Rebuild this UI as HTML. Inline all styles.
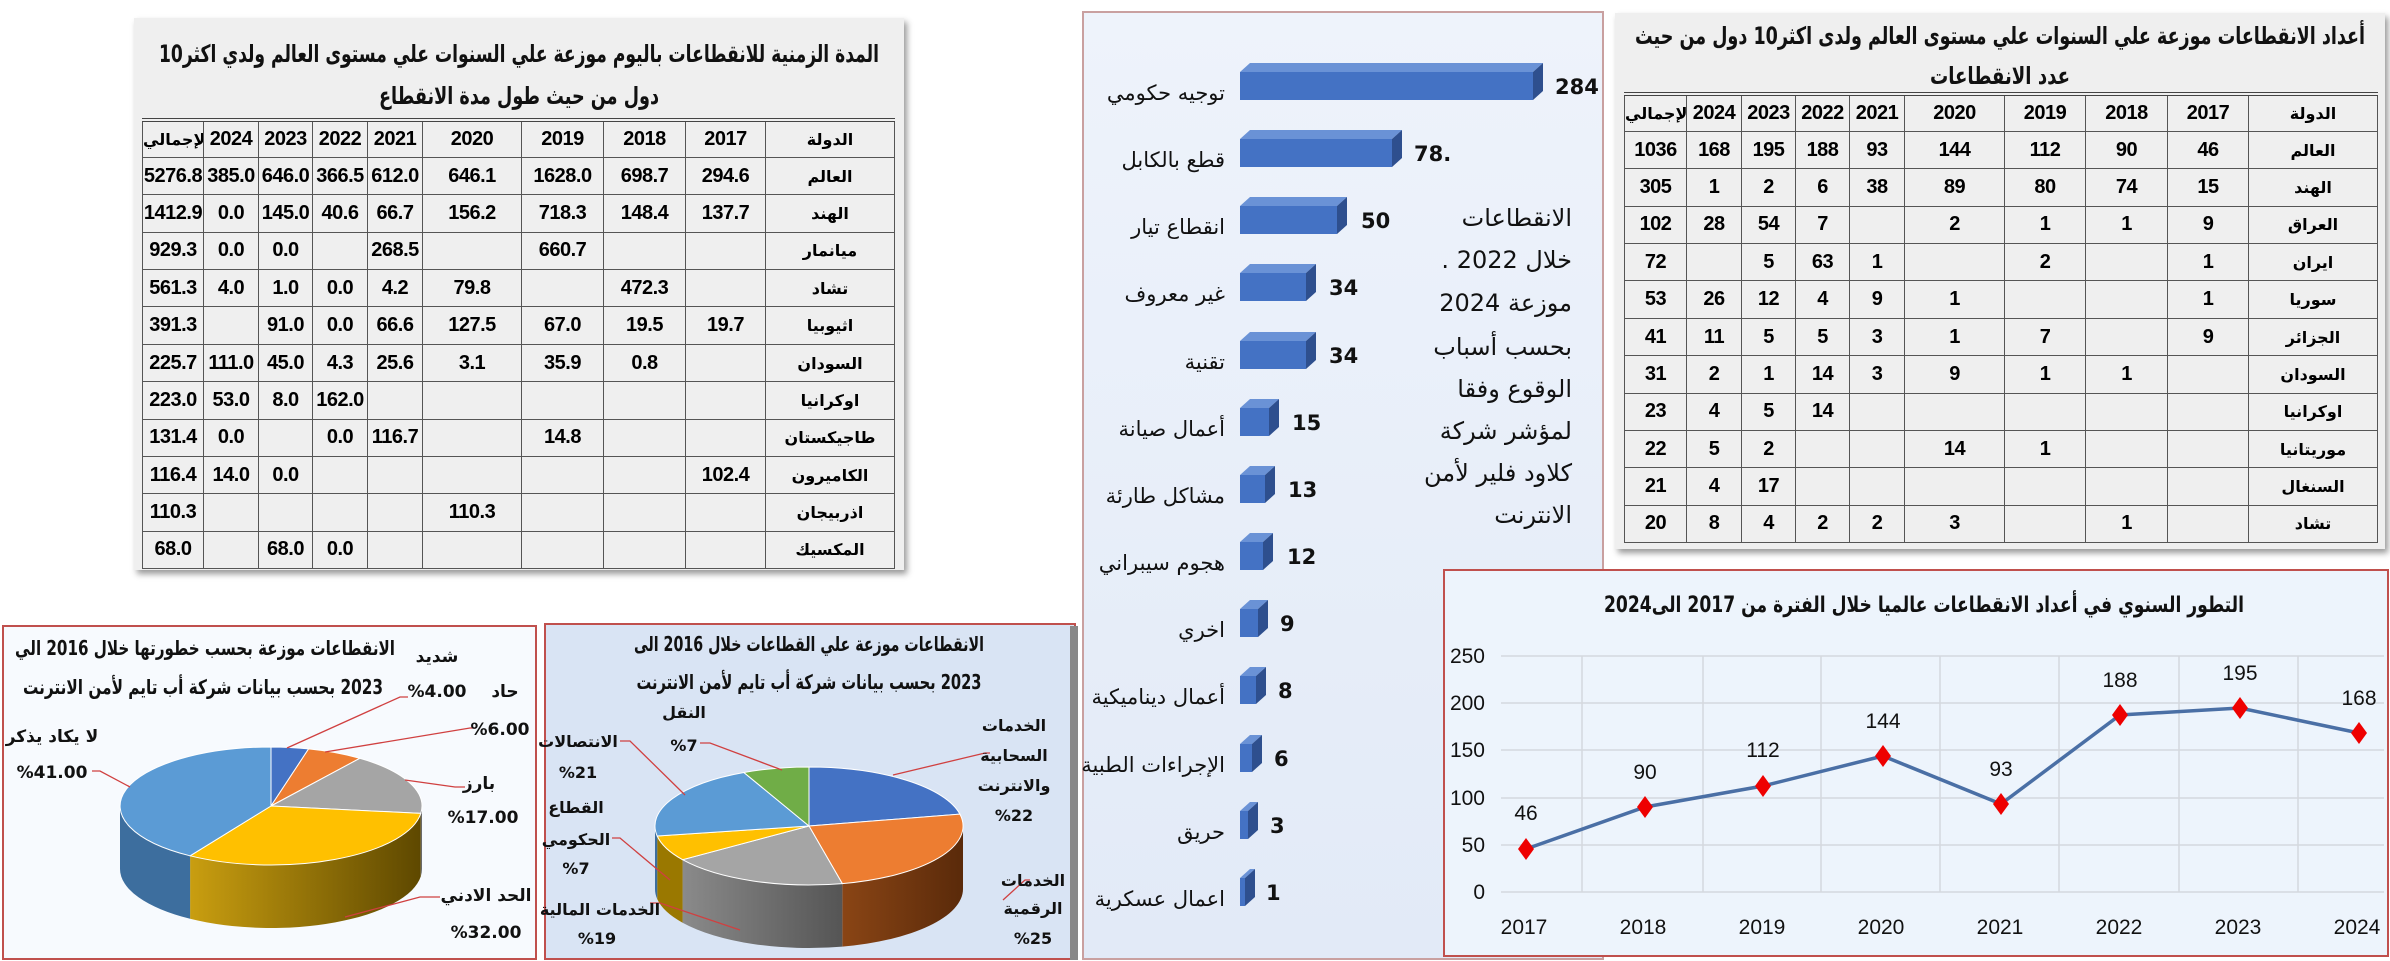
<!DOCTYPE html>
<html><head><meta charset="utf-8">
<style>
*{margin:0;padding:0;box-sizing:border-box}
body{width:2390px;height:961px;background:#fff;position:relative;overflow:hidden;font-family:"Liberation Sans","DejaVu Sans",sans-serif}
.box{position:absolute;background:#efefef;box-shadow:3px 4px 6px #999}
table{position:absolute;border-collapse:collapse;table-layout:fixed;font-weight:bold;font-size:20px;font-family:"Liberation Sans",sans-serif;letter-spacing:-0.5px}
td{border:1px solid #555;text-align:center;height:37.4px;padding:0;overflow:hidden;white-space:nowrap}
tr:first-child td{border-top:4px double #444}
td.c{font-family:"DejaVu Sans",sans-serif;font-size:16px;letter-spacing:0}
svg{position:absolute;left:0;top:0}
</style></head><body>

<svg width="2390" height="961" viewBox="0 0 2390 961" style="z-index:0">
<defs>
<linearGradient id="bg1" x1="0" y1="0" x2="0" y2="1"><stop offset="0" stop-color="#eef3fb"/><stop offset="1" stop-color="#e2eaf7"/></linearGradient>
<linearGradient id="yel" x1="0" y1="0" x2="1" y2="0"><stop offset="0" stop-color="#c99e10"/><stop offset="1" stop-color="#5e4800"/></linearGradient>
<linearGradient id="gry" x1="0" y1="0" x2="1" y2="0"><stop offset="0" stop-color="#8a8a8a"/><stop offset="1" stop-color="#555"/></linearGradient>
<linearGradient id="org" x1="0" y1="0" x2="1" y2="0"><stop offset="0" stop-color="#8a4515"/><stop offset="1" stop-color="#5a2a0a"/></linearGradient>
</defs>
<!-- bar chart panel -->
<rect x="1083" y="12" width="520" height="947" fill="url(#bg1)" stroke="#c9a0a0" stroke-width="2"/>
<g font-family="DejaVu Sans,sans-serif" font-size="21" fill="#111">
<g fill="#4472c4">
<rect x="1240" y="72" width="293" height="28"/><rect x="1240" y="139" width="152" height="28"/><rect x="1240" y="206" width="97" height="28"/><rect x="1240" y="273" width="66" height="28"/><rect x="1240" y="341" width="66" height="28"/><rect x="1240" y="408" width="29" height="28"/><rect x="1240" y="475" width="25" height="28"/><rect x="1240" y="542" width="23" height="28"/><rect x="1240" y="609" width="18" height="28"/><rect x="1240" y="676" width="16" height="28"/><rect x="1240" y="744" width="12" height="28"/><rect x="1240" y="811" width="8" height="28"/><rect x="1240" y="878" width="5" height="28"/>
</g>
<g fill="#6a92d6">
<path d="M1240 72l10-9h293l-10 9z"/><path d="M1240 139l10-9h152l-10 9z"/><path d="M1240 206l10-9h97l-10 9z"/><path d="M1240 273l10-9h66l-10 9z"/><path d="M1240 341l10-9h66l-10 9z"/><path d="M1240 408l10-9h29l-10 9z"/><path d="M1240 475l10-9h25l-10 9z"/><path d="M1240 542l10-9h23l-10 9z"/><path d="M1240 609l10-9h18l-10 9z"/><path d="M1240 676l10-9h16l-10 9z"/><path d="M1240 744l10-9h12l-10 9z"/><path d="M1240 811l10-9h8l-10 9z"/><path d="M1240 878l10-9h5l-10 9z"/>
</g>
<g fill="#2e4f8e">
<path d="M1533 72l10-9v28l-10 9z"/><path d="M1392 139l10-9v28l-10 9z"/><path d="M1337 206l10-9v28l-10 9z"/><path d="M1306 273l10-9v28l-10 9z"/><path d="M1306 341l10-9v28l-10 9z"/><path d="M1269 408l10-9v28l-10 9z"/><path d="M1265 475l10-9v28l-10 9z"/><path d="M1263 542l10-9v28l-10 9z"/><path d="M1258 609l10-9v28l-10 9z"/><path d="M1256 676l10-9v28l-10 9z"/><path d="M1252 744l10-9v28l-10 9z"/><path d="M1248 811l10-9v28l-10 9z"/><path d="M1245 878l10-9v28l-10 9z"/>
</g>
<g text-anchor="end">
<text x="1225" y="100">توجيه حكومي</text><text x="1225" y="167">قطع بالكابل</text><text x="1225" y="234">انقطاع تيار</text><text x="1225" y="301">غير معروف</text><text x="1225" y="369">تقنية</text><text x="1225" y="436">أعمال صيانة</text><text x="1225" y="503">مشاكل طارئة</text><text x="1225" y="570">هجوم سيبراني</text><text x="1225" y="637">اخري</text><text x="1225" y="704">أعمال ديناميكية</text><text x="1225" y="772">الإجراءات الطبية</text><text x="1225" y="839">حريق</text><text x="1225" y="906">اعمال عسكرية</text>
</g>
<g font-weight="bold" font-size="21">
<text x="1555" y="94">284</text><text x="1414" y="161">78.</text><text x="1361" y="228">50</text><text x="1329" y="295">34</text><text x="1329" y="363">34</text><text x="1292" y="430">15</text><text x="1288" y="497">13</text><text x="1287" y="564">12</text><text x="1280" y="631">9</text><text x="1278" y="698">8</text><text x="1274" y="766">6</text><text x="1270" y="833">3</text><text x="1266" y="900">1</text>
</g>
<g text-anchor="start" direction="rtl" font-size="24">
<text x="1572" y="226">الانقطاعات</text><text x="1572" y="268">خلال 2022 .</text><text x="1572" y="311">موزعة 2024</text><text x="1572" y="355">بحسب أسباب</text><text x="1572" y="397">الوقوع وفقا</text><text x="1572" y="439">لمؤشر شركة</text><text x="1572" y="481">كلاود فلير لأمن</text><text x="1572" y="523">الانترنت</text>
</g>
</g>

<!-- line chart panel -->
<rect x="1444" y="570" width="944" height="386" fill="#edf4fc" stroke="#c0504d" stroke-width="2"/>
<g stroke="#d4d8de" stroke-width="1.5">
<line x1="1501" y1="656" x2="2384" y2="656"/><line x1="1501" y1="703" x2="2384" y2="703"/><line x1="1501" y1="750" x2="2384" y2="750"/><line x1="1501" y1="798" x2="2384" y2="798"/><line x1="1501" y1="845" x2="2384" y2="845"/><line x1="1501" y1="892" x2="2384" y2="892"/>
<line x1="1582" y1="656" x2="1582" y2="892"/><line x1="1703" y1="656" x2="1703" y2="892"/><line x1="1821" y1="656" x2="1821" y2="892"/><line x1="1940" y1="656" x2="1940" y2="892"/><line x1="2059" y1="656" x2="2059" y2="892"/><line x1="2179" y1="656" x2="2179" y2="892"/><line x1="2298" y1="656" x2="2298" y2="892"/>
</g>
<polyline points="1526,849 1645,807 1763,786 1883,756 2001,804 2120,715 2240,708 2359,733" fill="none" stroke="#4a6fa5" stroke-width="3.5"/>
<g fill="#e00">
<path d="M1526 838l8 11-8 11-8-11z"/><path d="M1645 796l8 11-8 11-8-11z"/><path d="M1763 775l8 11-8 11-8-11z"/><path d="M1883 745l8 11-8 11-8-11z"/><path d="M2001 793l8 11-8 11-8-11z"/><path d="M2120 704l8 11-8 11-8-11z"/><path d="M2240 697l8 11-8 11-8-11z"/><path d="M2359 722l8 11-8 11-8-11z"/>
</g>
<g font-family="Liberation Sans,sans-serif" font-size="21" fill="#111" text-anchor="middle">
<text x="1526" y="820">46</text><text x="1645" y="779">90</text><text x="1763" y="757">112</text><text x="1883" y="728">144</text><text x="2001" y="776">93</text><text x="2120" y="687">188</text><text x="2240" y="680">195</text><text x="2359" y="705">168</text>
<g text-anchor="end"><text x="1485" y="663">250</text><text x="1485" y="710">200</text><text x="1485" y="757">150</text><text x="1485" y="805">100</text><text x="1485" y="852">50</text><text x="1485" y="899">0</text></g>
<text x="1524" y="934">2017</text><text x="1643" y="934">2018</text><text x="1762" y="934">2019</text><text x="1881" y="934">2020</text><text x="2000" y="934">2021</text><text x="2119" y="934">2022</text><text x="2238" y="934">2023</text><text x="2357" y="934">2024</text>
<text x="1924" y="612" direction="rtl" font-size="22" font-weight="bold" font-family="DejaVu Sans,sans-serif" textLength="640" lengthAdjust="spacingAndGlyphs">التطور السنوي في أعداد الانقطاعات عالميا خلال الفترة من 2017 الى2024</text>
</g>

<!-- left pie panel -->
<rect x="3" y="626" width="533" height="333" fill="#f7fafe" stroke="#c0504d" stroke-width="2"/>
<path d="M420.8,813.4 A151,59 0 0,1 190.1,855.8 L190.1,918.8 A151,59 0 0,0 420.8,876.4 Z" fill="url(#yel)"/>
<path d="M190.1,855.8 A151,59 0 0,1 120,806 L120,869 A151,59 0 0,0 190.1,918.8 Z" fill="#3d6e9e"/>
<path d="M422,806 A151,59 0 0,1 420.8,813.4 L420.8,876.4 A151,59 0 0,0 422,869 Z" fill="#6a6a6a"/>
<g stroke="#fff" stroke-width="1">
<path d="M271,806 L271,747 A151,59 0 0,1 308.6,748.9Z" fill="#4472c4"/>
<path d="M271,806 L308.6,748.9 A151,59 0 0,1 359.8,758.3Z" fill="#ed7d31"/>
<path d="M271,806 L359.8,758.3 A151,59 0 0,1 420.8,813.4Z" fill="#a5a5a5"/>
<path d="M271,806 L420.8,813.4 A151,59 0 0,1 190.1,855.8Z" fill="#ffc000"/>
<path d="M271,806 L190.1,855.8 A151,59 0 0,1 271,747Z" fill="#5b9bd5"/>
</g>
<g stroke="#d04040" stroke-width="1.3" fill="none">
<polyline points="287,748 400,697 408,697"/><polyline points="325,752 470,728 476,728"/><polyline points="405,780 455,787 465,787"/><polyline points="345,917 420,897 440,897"/><polyline points="130,787 100,771 92,771"/>
</g>
<g font-family="DejaVu Sans,sans-serif" font-size="17" font-weight="bold" fill="#111" text-anchor="middle">
<text x="205" y="655" direction="rtl" font-size="20" textLength="380" lengthAdjust="spacingAndGlyphs">الانقطاعات موزعة بحسب خطورتها خلال 2016 الي</text>
<text x="203" y="694" direction="rtl" font-size="20" textLength="360" lengthAdjust="spacingAndGlyphs">2023 بحسب بيانات شركة أب تايم لأمن الانترنت</text>
<text x="437" y="662">شديد</text><text x="505" y="697">حاد</text><text x="437" y="697">%4.00</text><text x="500" y="735">%6.00</text>
<text x="52" y="742">لا يكاد يذكر</text><text x="52" y="778">%41.00</text><text x="479" y="789">بارز</text><text x="483" y="823">%17.00</text>
<text x="486" y="901">الحد الادني</text><text x="486" y="938">%32.00</text>
</g>

<!-- right pie panel -->
<rect x="545" y="624" width="530" height="335" fill="#d9e4f4" stroke="#c0504d" stroke-width="2"/>
<rect x="1070" y="626" width="8" height="334" fill="#888"/>
<path d="M963,826 A154,59 0 0,1 842.3,883.6 L842.3,946.6 A154,59 0 0,0 963,889 Z" fill="url(#org)"/>
<path d="M842.3,883.6 A154,59 0 0,1 682.6,859.7 L682.6,922.7 A154,59 0 0,0 842.3,946.6 Z" fill="url(#gry)"/>
<path d="M682.6,859.7 A154,59 0 0,1 657.2,836 L657.2,899 A154,59 0 0,0 682.6,922.7 Z" fill="#9a7800"/>
<path d="M657.2,836 A154,59 0 0,1 655,826 L655,889 A154,59 0 0,0 657.2,899 Z" fill="#3d6e9e"/>
<g stroke="#fff" stroke-width="1">
<path d="M809,826 L809,767 A154,59 0 0,1 959.9,814.1Z" fill="#4472c4"/>
<path d="M809,826 L959.9,814.1 A154,59 0 0,1 842.3,883.6Z" fill="#ed7d31"/>
<path d="M809,826 L842.3,883.6 A154,59 0 0,1 682.6,859.7Z" fill="#a5a5a5"/>
<path d="M809,826 L682.6,859.7 A154,59 0 0,1 657.2,836Z" fill="#ffc000"/>
<path d="M809,826 L657.2,836 A154,59 0 0,1 743.9,772.5Z" fill="#5b9bd5"/>
<path d="M809,826 L743.9,772.5 A154,59 0 0,1 809,767Z" fill="#70ad47"/>
</g>
<g stroke="#d04040" stroke-width="1.3" fill="none">
<polyline points="893,775 985,753 990,753"/><polyline points="1003,900 1025,880 1030,880"/><polyline points="740,930 660,903 650,903"/><polyline points="670,880 620,838 612,838"/><polyline points="685,795 630,741 620,741"/><polyline points="782,770 710,743 700,743"/>
</g>
<g font-family="DejaVu Sans,sans-serif" font-size="16" font-weight="bold" fill="#111" text-anchor="middle">
<text x="809" y="651" direction="rtl" font-size="20" textLength="350" lengthAdjust="spacingAndGlyphs">الانقطاعات موزعة علي القطاعات خلال 2016 الى</text>
<text x="809" y="689" direction="rtl" font-size="20" textLength="345" lengthAdjust="spacingAndGlyphs">2023 بحسب بيانات شركة أب تايم لأمن الانترنت</text>
<text x="684" y="718">النقل</text><text x="684" y="751">%7</text>
<text x="1014" y="731">الخدمات</text><text x="1014" y="761">السحابية</text><text x="1014" y="791">والانترنت</text><text x="1014" y="821">%22</text>
<text x="578" y="747">الانتصالات</text><text x="578" y="778">%21</text>
<text x="576" y="813">القطاع</text><text x="576" y="845">الحكومي</text><text x="576" y="874">%7</text>
<text x="600" y="915">الخدمات المالية</text><text x="597" y="944">%19</text>
<text x="1033" y="886">الخدمات</text><text x="1033" y="914">الرقمية</text><text x="1033" y="944">%25</text>
</g>
</svg>

<!-- left table -->
<div class="box" style="left:134px;top:18px;width:770px;height:552px;"></div>
<table style="left:142px;top:118px;width:752px">
<colgroup><col style="width:61px"><col style="width:55px"><col style="width:54px"><col style="width:55px"><col style="width:55px"><col style="width:99px"><col style="width:82px"><col style="width:82px"><col style="width:80px"><col style="width:129px"></colgroup>
<tr><td class="c">الإجمالي</td><td>2024</td><td>2023</td><td>2022</td><td>2021</td><td>2020</td><td>2019</td><td>2018</td><td>2017</td><td class="c">الدولة</td></tr>
<tr><td>5276.8</td><td>385.0</td><td>646.0</td><td>366.5</td><td>612.0</td><td>646.1</td><td>1628.0</td><td>698.7</td><td>294.6</td><td class="c">العالم</td></tr>
<tr><td>1412.9</td><td>0.0</td><td>145.0</td><td>40.6</td><td>66.7</td><td>156.2</td><td>718.3</td><td>148.4</td><td>137.7</td><td class="c">الهند</td></tr>
<tr><td>929.3</td><td>0.0</td><td>0.0</td><td></td><td>268.5</td><td></td><td>660.7</td><td></td><td></td><td class="c">ميانمار</td></tr>
<tr><td>561.3</td><td>4.0</td><td>1.0</td><td>0.0</td><td>4.2</td><td>79.8</td><td></td><td>472.3</td><td></td><td class="c">تشاد</td></tr>
<tr><td>391.3</td><td></td><td>91.0</td><td>0.0</td><td>66.6</td><td>127.5</td><td>67.0</td><td>19.5</td><td>19.7</td><td class="c">اثيوبيا</td></tr>
<tr><td>225.7</td><td>111.0</td><td>45.0</td><td>4.3</td><td>25.6</td><td>3.1</td><td>35.9</td><td>0.8</td><td></td><td class="c">السودان</td></tr>
<tr><td>223.0</td><td>53.0</td><td>8.0</td><td>162.0</td><td></td><td></td><td></td><td></td><td></td><td class="c">اوكرانيا</td></tr>
<tr><td>131.4</td><td>0.0</td><td></td><td>0.0</td><td>116.7</td><td></td><td>14.8</td><td></td><td></td><td class="c">طاجيكستان</td></tr>
<tr><td>116.4</td><td>14.0</td><td>0.0</td><td></td><td></td><td></td><td></td><td></td><td>102.4</td><td class="c">الكاميرون</td></tr>
<tr><td>110.3</td><td></td><td></td><td></td><td></td><td>110.3</td><td></td><td></td><td></td><td class="c">اذربيجان</td></tr>
<tr><td>68.0</td><td></td><td>68.0</td><td>0.0</td><td></td><td></td><td></td><td></td><td></td><td class="c">المكسيك</td></tr>
</table>

<!-- right table -->
<div class="box" style="left:1615px;top:13px;width:770px;height:536px;"></div>
<table style="left:1624px;top:92px;width:753px">
<colgroup><col style="width:62px"><col style="width:55px"><col style="width:54px"><col style="width:54px"><col style="width:55px"><col style="width:100px"><col style="width:81px"><col style="width:82px"><col style="width:81px"><col style="width:129px"></colgroup>
<tr><td class="c">الإجمالي</td><td>2024</td><td>2023</td><td>2022</td><td>2021</td><td>2020</td><td>2019</td><td>2018</td><td>2017</td><td class="c">الدولة</td></tr>
<tr><td>1036</td><td>168</td><td>195</td><td>188</td><td>93</td><td>144</td><td>112</td><td>90</td><td>46</td><td class="c">العالم</td></tr>
<tr><td>305</td><td>1</td><td>2</td><td>6</td><td>38</td><td>89</td><td>80</td><td>74</td><td>15</td><td class="c">الهند</td></tr>
<tr><td>102</td><td>28</td><td>54</td><td>7</td><td></td><td>2</td><td>1</td><td>1</td><td>9</td><td class="c">العراق</td></tr>
<tr><td>72</td><td></td><td>5</td><td>63</td><td>1</td><td></td><td>2</td><td></td><td>1</td><td class="c">ايران</td></tr>
<tr><td>53</td><td>26</td><td>12</td><td>4</td><td>9</td><td>1</td><td></td><td></td><td>1</td><td class="c">سوريا</td></tr>
<tr><td>41</td><td>11</td><td>5</td><td>5</td><td>3</td><td>1</td><td>7</td><td></td><td>9</td><td class="c">الجزائر</td></tr>
<tr><td>31</td><td>2</td><td>1</td><td>14</td><td>3</td><td>9</td><td>1</td><td>1</td><td></td><td class="c">السودان</td></tr>
<tr><td>23</td><td>4</td><td>5</td><td>14</td><td></td><td></td><td></td><td></td><td></td><td class="c">اوكرانيا</td></tr>
<tr><td>22</td><td>5</td><td>2</td><td></td><td></td><td>14</td><td>1</td><td></td><td></td><td class="c">موريتانيا</td></tr>
<tr><td>21</td><td>4</td><td>17</td><td></td><td></td><td></td><td></td><td></td><td></td><td class="c">السنغال</td></tr>
<tr><td>20</td><td>8</td><td>4</td><td>2</td><td>2</td><td>3</td><td></td><td>1</td><td></td><td class="c">تشاد</td></tr>
</table>

<svg width="2390" height="961" viewBox="0 0 2390 961" style="z-index:3;pointer-events:none">
<g font-family="DejaVu Sans,sans-serif" font-weight="bold" font-size="24" fill="#111" text-anchor="middle" direction="rtl">
<text x="519" y="62" textLength="720" lengthAdjust="spacingAndGlyphs">المدة الزمنية للانقطاعات باليوم موزعة علي السنوات علي مستوى العالم ولدي اكثر10</text>
<text x="519" y="104" textLength="280" lengthAdjust="spacingAndGlyphs">دول من حيث طول مدة الانقطاع</text>
<text x="2000" y="44" textLength="730" lengthAdjust="spacingAndGlyphs">أعداد الانقطاعات موزعة علي السنوات علي مستوى العالم ولدى اكثر10 دول من حيث</text>
<text x="2000" y="84" textLength="140" lengthAdjust="spacingAndGlyphs">عدد الانقطاعات</text>
</g>
</svg>
</body></html>
